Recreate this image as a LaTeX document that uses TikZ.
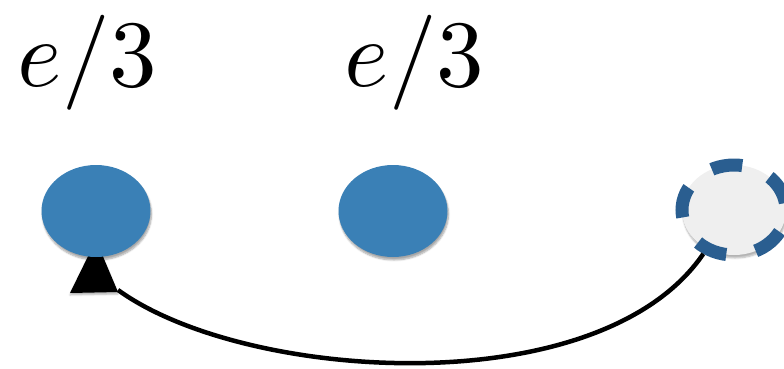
\documentclass[tikz,border=0pt]{standalone}
\usepackage{graphicx}
\usetikzlibrary{shapes.geometric,shadows.blur}
\definecolor{dotblue}{HTML}{3A80B6}
\definecolor{dashblue}{HTML}{2A5E90}
\definecolor{holegray}{HTML}{EFEFEF}
\newcommand{\bigcharge}[1]{\scalebox{9.5}{#1}}
\tikzset{
  quasi/.style={ellipse, fill=dotblue, minimum width=109pt, minimum height=92pt, inner sep=0pt,
    blur shadow={shadow xshift=1pt, shadow yshift=-3pt, shadow blur steps=6, shadow opacity=35}},
  hole/.style={ellipse, fill=holegray, draw=dashblue, line width=13pt, minimum width=104pt, minimum height=90pt, inner sep=0pt,
    dash pattern=on 31pt off 30pt, dash phase=54pt,
    blur shadow={shadow xshift=1pt, shadow yshift=-3pt, shadow blur steps=6, shadow opacity=30}},
  charge/.style={anchor=base, inner sep=0pt},
  conn/.style={line width=4.5pt, black},
  tip/.style={fill=black, blur shadow={shadow xshift=0pt, shadow yshift=-2pt, shadow blur steps=4, shadow opacity=30}}
}
\begin{document}
\begin{tikzpicture}[x=1pt,y=-1pt]
\useasboundingbox (0,0) rectangle (784,368);
% arrowhead (partly hidden behind the left particle)
\coordinate (tb) at (118,290);
\fill[tip] (96,240) -- (70,293) -- (118,292) -- cycle;
\node[quasi] (l) at (96,211) {};
\node[quasi] (m) at (393,211) {};
\node[hole] (r) at (734,210) {};
\node[charge] (la) at (87.5,86) {\bigcharge{$e/3$}};
\node[charge] (ma) at (414.5,86) {\bigcharge{$e/3$}};
\draw[conn] (r.235) .. controls (600,405) and (245,382) .. (tb);
\end{tikzpicture}
\end{document}
